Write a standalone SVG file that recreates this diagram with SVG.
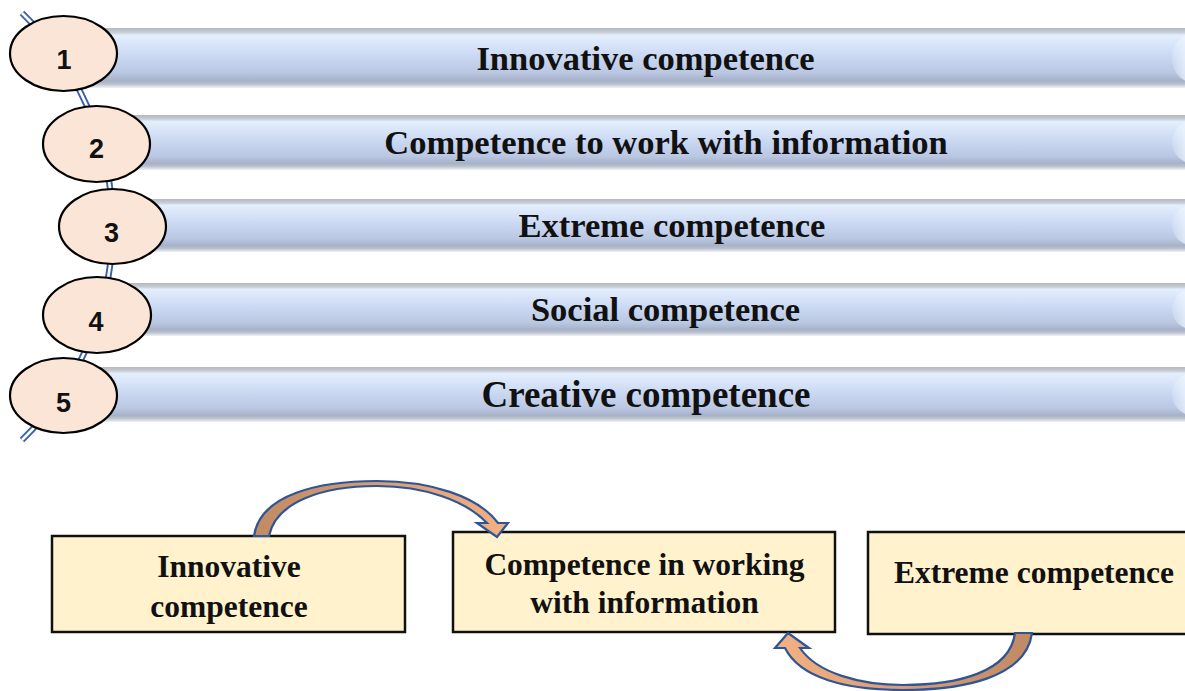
<svg xmlns="http://www.w3.org/2000/svg" width="1185" height="691" viewBox="0 0 1185 691">
<defs>
<linearGradient id="barGrad" x1="0" y1="0" x2="0" y2="1">
<stop offset="0" stop-color="#b4b7bd"/>
<stop offset="0.07" stop-color="#c6ccd6"/>
<stop offset="0.12" stop-color="#e4effd"/>
<stop offset="0.45" stop-color="#cbd9f3"/>
<stop offset="0.75" stop-color="#bac7e2"/>
<stop offset="0.88" stop-color="#a7b2c9"/>
<stop offset="0.93" stop-color="#b9bfca"/>
<stop offset="1" stop-color="#eef3fa"/>
</linearGradient>
<linearGradient id="endGrad" x1="0" y1="0" x2="1" y2="0">
<stop offset="0" stop-color="#eef5ff" stop-opacity="0.2"/>
<stop offset="0.4" stop-color="#eef5ff" stop-opacity="0.85"/>
<stop offset="1" stop-color="#f6f9ff" stop-opacity="0.95"/>
</linearGradient>
<linearGradient id="arrowLR" x1="0" y1="0" x2="1" y2="0">
<stop offset="0" stop-color="#c08a63"/>
<stop offset="0.45" stop-color="#d59c73"/>
<stop offset="1" stop-color="#f4b183"/>
</linearGradient>
<linearGradient id="arrowRL" x1="1" y1="0" x2="0" y2="0">
<stop offset="0" stop-color="#c08a63"/>
<stop offset="0.45" stop-color="#d59c73"/>
<stop offset="1" stop-color="#f4b183"/>
</linearGradient>
<style>
.bar{fill:url(#barGrad);}
.barEnd{fill:url(#endGrad);}
.circ{fill:#fbe5d6;stroke:#000;stroke-width:2.2;}
.num{font-family:"Liberation Sans","Open Sans",sans-serif;font-weight:bold;font-size:27px;fill:#111;text-anchor:middle;}
.lbl{font-family:"Liberation Serif","Times New Roman",serif;font-weight:bold;font-size:34.5px;fill:#111;text-anchor:middle;}
.box{fill:#fff2cc;stroke:#111;stroke-width:2.5;}
.btxt{font-family:"Liberation Serif","Times New Roman",serif;font-weight:bold;font-size:31.5px;fill:#111;text-anchor:middle;}
.arcOuter{fill:none;stroke:#3b63a9;stroke-width:6.5;}
.arcInner{fill:none;stroke:#ffffff;stroke-width:2.6;}
.carrow{stroke:#2f5597;stroke-width:2.2;stroke-linejoin:miter;}
</style>
</defs>

<g id="connectors">
<path class="arcOuter" d="M22,13 A297,297 0 0 1 22,440"/>
<path class="arcInner" d="M22,13 A297,297 0 0 1 22,440"/>
</g>

<g id="item1">
<rect class="bar" x="63" y="28" width="1130" height="60"/>
<ellipse class="barEnd" cx="1192" cy="58" rx="20" ry="24"/>
<ellipse class="circ" cx="63.5" cy="53.5" rx="53.5" ry="37.5"/>
<text class="num" x="64" y="69">1</text>
<text class="lbl" x="645.5" y="69.5">Innovative competence</text>
</g>
<g id="item2">
<rect class="bar" x="96" y="115" width="1100" height="55"/>
<ellipse class="barEnd" cx="1192" cy="142" rx="20" ry="21"/>
<ellipse class="circ" cx="96.5" cy="144" rx="53.5" ry="38"/>
<text class="num" x="96.5" y="158">2</text>
<text class="lbl" x="666" y="154">Competence to work with information</text>
</g>
<g id="item3">
<rect class="bar" x="112" y="199" width="1090" height="53"/>
<ellipse class="barEnd" cx="1192" cy="225" rx="20" ry="20"/>
<ellipse class="circ" cx="112.5" cy="226.5" rx="53.5" ry="37.5"/>
<text class="num" x="111.5" y="242">3</text>
<text class="lbl" x="672" y="237">Extreme competence</text>
</g>
<g id="item4">
<rect class="bar" x="97" y="283" width="1100" height="53"/>
<ellipse class="barEnd" cx="1192" cy="309" rx="20" ry="20"/>
<ellipse class="circ" cx="97" cy="315" rx="54" ry="38"/>
<text class="num" x="96" y="331">4</text>
<text class="lbl" x="665.5" y="321">Social competence</text>
</g>
<g id="item5">
<rect class="bar" x="63" y="367" width="1130" height="55"/>
<ellipse class="barEnd" cx="1192" cy="394" rx="20" ry="21"/>
<ellipse class="circ" cx="63.5" cy="395.5" rx="53.5" ry="37.5"/>
<text class="num" x="63.5" y="412">5</text>
<text class="lbl" x="646" y="407" style="font-size:37px">Creative competence</text>
</g>

<g id="box-innovative">
<rect class="box" x="52" y="536" width="353" height="96"/>
<text class="btxt" x="229" y="577">Innovative</text>
<text class="btxt" x="229" y="617">competence</text>
</g>
<g id="box-information">
<rect class="box" x="453" y="532" width="382" height="100"/>
<text class="btxt" x="644.5" y="575">Competence in working</text>
<text class="btxt" x="644.5" y="613">with information</text>
</g>
<g id="box-extreme">
<rect class="box" x="868" y="532" width="340" height="102"/>
<text class="btxt" x="1034" y="583">Extreme competence</text>
</g>

<g id="curved-arrows">
<path class="carrow" fill="url(#arrowLR)" d="M254,536 C260,494 320,481 377,481 C430,481 478,496 498,523 L508,523 L497,537 L477,523 L487,523 C466,501 425,486 377,486 C322,486 276,502 269,536 Z"/>
<path class="carrow" fill="url(#arrowRL)" d="M1032,633 C1026,678 962,690 903,690 C846,690 800,678 785,648 L775,648 L788,633 L809,648 L800,648 C817,673 860,685 903,685 C958,685 1010,672 1015,633 Z"/>
</g>
</svg>
